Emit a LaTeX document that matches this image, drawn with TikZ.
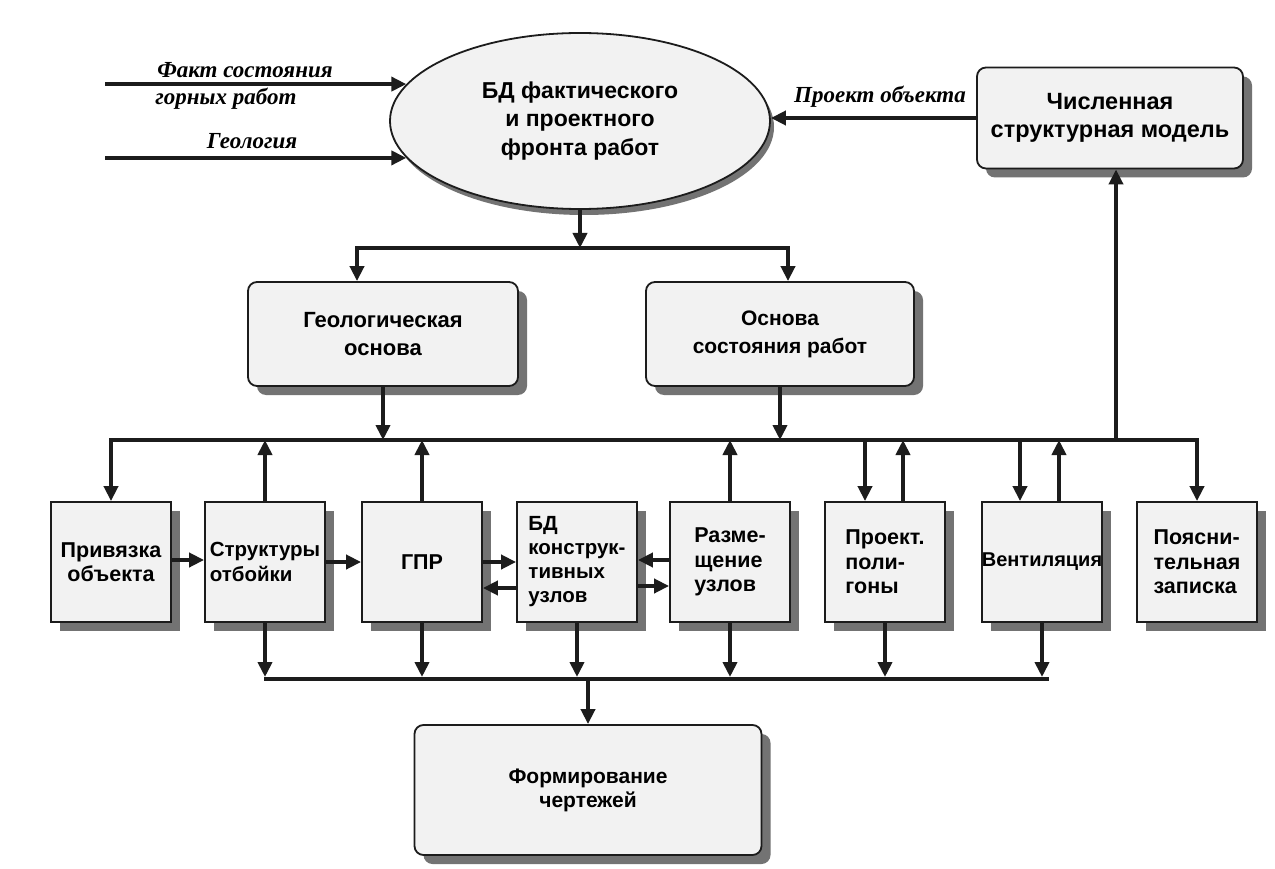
\documentclass[tikz,border=0pt]{standalone}
\usepackage{fontspec}
\setmainfont{Liberation Sans}
\newfontfamily\labfont{Liberation Serif}
\usetikzlibrary{shapes.geometric,shadows,arrows.meta}
\definecolor{inkcol}{RGB}{28,28,28}
\definecolor{boxfill}{RGB}{242,242,242}
\definecolor{shadecol}{RGB}{115,115,115}
\begin{document}
\begin{tikzpicture}[x=1pt,y=-1pt,
  castshadow/.style={drop shadow={shadow xshift=9pt,shadow yshift=-9pt,fill=shadecol,opacity=1}},
  block/.style={draw=inkcol,line width=1.8pt,fill=boxfill,castshadow,inner sep=0pt,align=center,
    font=\bfseries\fontsize{22}{28}\selectfont},
  rblock/.style={block,rounded corners=9pt},
  unitbox/.style={block,minimum width=120pt,minimum height=120pt,
    font=\bfseries\fontsize{21.5}{24.5}\selectfont},
  flow/.style={draw=inkcol,line width=4pt,-{Triangle[length=15pt,width=14pt]}},
  bus/.style={draw=inkcol,line width=4.5pt},
  inlabel/.style={font=\labfont\bfseries\itshape\fontsize{23}{26}\selectfont,inner sep=0pt}]

\useasboundingbox (0,0) rectangle (1275,869);
\fill[white] (0,0) rectangle (1275,869);

% central database
\node[ellipse,draw=inkcol,line width=1.8pt,fill=boxfill,
  drop shadow={shadow xshift=4pt,shadow yshift=-6pt,fill=shadecol,opacity=1},
  minimum width=380pt,minimum height=176pt,inner sep=0pt,align=center,
  font=\bfseries\fontsize{23}{28.5}\selectfont] (db) at (580,121)
  {БД фактического\\и проектного\\фронта работ};

% upper blocks
\node[rblock,minimum width=266pt,minimum height=101pt,font=\bfseries\fontsize{23.5}{28}\selectfont]
  (model) at (1110,118) {Численная\\структурная модель};
\node[rblock,minimum width=270pt,minimum height=104pt] (geo) at (383,334) {Геологическая\\основа};
\node[rblock,minimum width=268pt,minimum height=104pt,font=\bfseries\fontsize{21}{28}\selectfont]
  (osn) at (780,334) {Основа\\состояния работ};

% row of working units
\node[unitbox] (priv) at (111,562) {Привязка\\объекта};
\node[unitbox,align=left,font=\bfseries\fontsize{20.5}{24.5}\selectfont] (str) at (265,562) {Структуры\\отбойки};
\node[unitbox] (gpr) at (422,562) {ГПР};
\node[unitbox,align=left,font=\bfseries\fontsize{20.5}{24}\selectfont] (bd) at (577,562) {БД\\конструк-\\тивных\\узлов};
\node[unitbox,align=left] (razm) at (730,562) {Разме-\\щение\\узлов};
\node[unitbox,align=left] (proj) at (885,562) {Проект.\\поли-\\гоны};
\node[unitbox,font=\bfseries\fontsize{20}{24}\selectfont] (vent) at (1042,562) {Вентиляция};
\node[unitbox,align=left] (poy) at (1197,562) {Поясни-\\тельная\\записка};

% output
\node[rblock,minimum width=347pt,minimum height=130pt,font=\bfseries\fontsize{21}{24}\selectfont]
  (form) at (588,790) {Формирование\\чертежей};

% input labels
\node[inlabel] (lfact1) at (245,70) {Факт состояния};
\node[inlabel] (lfact2) at (226,99) {горных работ};
\node[inlabel] (lgeol) at (252,141) {Геология};
\node[inlabel] (lproj) at (880,97) {Проект объекта};

% junction points
\coordinate (srcL) at (105,0);
\coordinate (splitL) at (357,248);
\coordinate (splitR) at (788,248);
\coordinate (busL) at (111,440);
\coordinate (busR) at (1197,440);
\coordinate (sinkL) at (264,679);
\coordinate (sinkR) at (1049,679);
\coordinate (modelIn) at ([xshift=6pt]model.south);
\coordinate (projIn) at ([xshift=-20pt]proj.north);
\coordinate (projOut) at ([xshift=18pt]proj.north);
\coordinate (ventIn) at ([xshift=-22pt]vent.north);
\coordinate (ventOut) at ([xshift=17pt]vent.north);

% inputs to the database
\draw[flow] (db.168 -| srcL) -- (db.168);
\draw[flow] (db.192 -| srcL) -- (db.192);
\draw[flow] (model.west) -- (model.west -| db.east);

% database to the two bases
\draw[flow] (db.south) -- (db.south |- splitL);
\draw[flow] (splitR) -- (splitL) -- (splitL |- geo.north);
\draw[flow] (splitL) -- (splitR) -- (splitR |- osn.north);

% main distribution bus
\draw[flow] (busR) -- (busL) -- (priv.north);
\draw[flow] (busL) -- (busR) -- (poy.north);
\draw[flow] (geo.south) -- (geo.south |- busL);
\draw[flow] (osn.south) -- (osn.south |- busL);
\draw[flow] (str.north) -- (str.north |- busL);
\draw[flow] (gpr.north) -- (gpr.north |- busL);
\draw[flow] (razm.north) -- (razm.north |- busL);
\draw[flow] (projIn |- busL) -- (projIn);
\draw[flow] (projOut) -- (projOut |- busL);
\draw[flow] (ventIn |- busL) -- (ventIn);
\draw[flow] (ventOut) -- (ventOut |- busL);
\draw[flow] (modelIn |- busL) -- (modelIn);

% links inside the row
\draw[flow] ([yshift=2pt]priv.east) -- ([yshift=2pt]str.west);
\draw[flow] (str.east) -- (gpr.west);
\draw[flow] (gpr.east) -- (bd.west);
\draw[flow] ([yshift=-26pt]bd.west) -- ([yshift=-26pt]gpr.east);
\draw[flow] ([yshift=2pt]razm.west) -- ([yshift=2pt]bd.east);
\draw[flow] ([yshift=-24pt]bd.east) -- ([yshift=-24pt]razm.west);

% collecting bus to the drawings
\draw[bus] (sinkL) -- (sinkR);
\foreach \u in {str,gpr,bd,razm,proj,vent}
  \draw[flow,shorten >=2pt] (\u.south) -- (\u.south |- sinkL);
\draw[flow] (form.north |- sinkL) -- (form.north);

\end{tikzpicture}
\end{document}
